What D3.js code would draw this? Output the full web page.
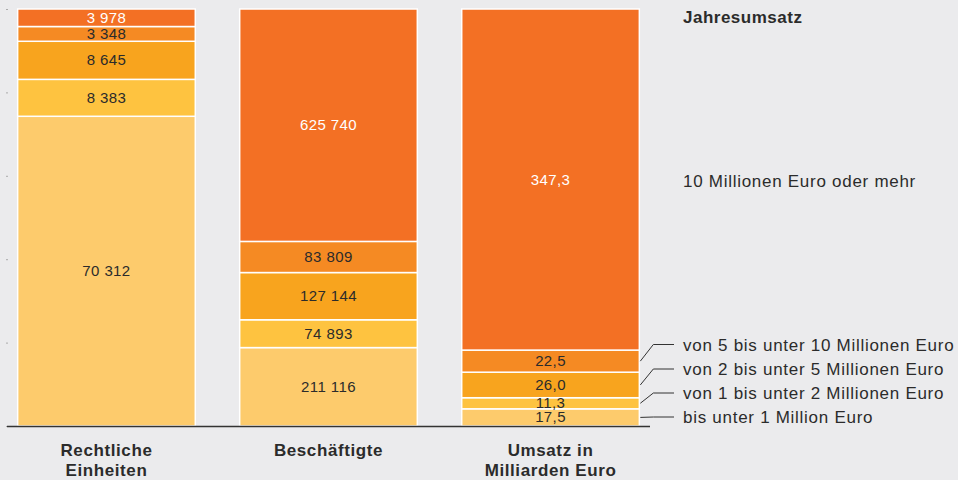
<!DOCTYPE html>
<html>
<head>
<meta charset="utf-8">
<script src="https://cdn.jsdelivr.net/npm/d3@7"></script>
<style>
  body { margin: 0; background: #ebebed; }
  svg text { font-family: Arial, "Liberation Sans", sans-serif; }
</style>
</head>
<body>
<svg width="958" height="480"></svg>
<script>
// categories (x axis) and size classes (stack order, bottom to top)
const categories = ['Rechtliche Einheiten', 'Beschäftigte', 'Umsatz in Milliarden Euro'];
const catLines = [['Rechtliche', 'Einheiten'], ['Beschäftigte'], ['Umsatz in', 'Milliarden Euro']];
const classes = ['bis unter 1 Million Euro', 'von 1 bis unter 2 Millionen Euro',
  'von 2 bis unter 5 Millionen Euro', 'von 5 bis unter 10 Millionen Euro',
  '10 Millionen Euro oder mehr'];

// values per category, bottom to top
const einheiten = [70312, 8383, 8645, 3348, 3978];
const beschaeftigte = [211116, 74893, 127144, 83809, 625740];
const umsatz = [17.5, 11.3, 26.0, 22.5, 347.3];

const labelsEinheiten = ['70 312', '8 383', '8 645', '3 348', '3 978'];
const labelsBeschaeftigte = ['211 116', '74 893', '127 144', '83 809', '625 740'];
const labelsUmsatz = ['17,5', '11,3', '26,0', '22,5', '347,3'];

const colors = ['#fdcb6c', '#fec340', '#f8a41e', '#f58a23', '#f37024'];

const series = [einheiten, beschaeftigte, umsatz];
const labels = [labelsEinheiten, labelsBeschaeftigte, labelsUmsatz];

const svg = d3.select('svg');

const x = d3.scaleBand().domain(categories).range([7, 650]).paddingInner(0.2).paddingOuter(0.048);
const y = d3.scaleLinear().domain([0, 1]).range([426, 9]);

// small ticks on the left
svg.append('g')
  .attr('transform', 'translate(8,0)')
  .call(d3.axisLeft(y).ticks(5).tickSize(2).tickFormat(''))
  .call(g => g.select('.domain').remove())
  .call(g => g.selectAll('line').attr('stroke', '#aaa'));

// build stacked shares
const rows = [];
series.forEach((vals, ci) => {
  const total = d3.sum(vals);
  let acc = 0;
  vals.forEach((v, k) => {
    rows.push({ cat: categories[ci], k: k, y0: acc / total, y1: (acc + v) / total, label: labels[ci][k] });
    acc += v;
  });
});

const bars = svg.append('g');
bars.selectAll('rect')
  .data(rows)
  .enter()
  .append('rect')
  .attr('x', d => x(d.cat))
  .attr('y', d => y(d.y1))
  .attr('width', x.bandwidth())
  .attr('height', d => y(d.y0) - y(d.y1))
  .attr('fill', d => colors[d.k])
  .attr('stroke', '#fff')
  .attr('stroke-width', 1.5);

bars.selectAll('text')
  .data(rows)
  .enter()
  .append('text')
  .attr('x', d => x(d.cat) + x.bandwidth() / 2)
  .attr('y', d => (y(d.y0) + y(d.y1)) / 2 + 5)
  .attr('text-anchor', 'middle')
  .style('font-size', '15px')
  .style('letter-spacing', '0.4px')
  .attr('fill', d => d.k === 4 ? '#fff' : '#2b2b2b')
  .text(d => d.label);

// baseline
svg.append('line')
  .attr('x1', 7).attr('x2', 650)
  .attr('y1', y(0) + 0.5).attr('y2', y(0) + 0.5)
  .attr('stroke', '#333').attr('stroke-width', 1.5);

// category labels
catLines.forEach((lines, i) => {
  const cx = x(categories[i]) + x.bandwidth() / 2;
  const t = svg.append('text')
    .attr('x', cx)
    .attr('y', 456)
    .attr('text-anchor', 'middle')
    .style('font-size', '17px')
    .style('font-weight', 'bold')
    .style('letter-spacing', '0.6px')
    .attr('fill', '#2b2b2b');
  lines.forEach((l, j) => {
    t.append('tspan').attr('x', cx).attr('dy', j === 0 ? 0 : 19.5).text(l);
  });
});

// legend
const lx = 683;
const lastCat = categories[2];
const uRows = rows.filter(d => d.cat === lastCat);
const barRight = x(lastCat) + x.bandwidth();
const legendY = [417, 393, 369, 344.5];

svg.append('text')
  .attr('x', lx).attr('y', 23)
  .style('font-size', '17px').style('font-weight', 'bold')
  .style('letter-spacing', '0.5px')
  .attr('fill', '#2b2b2b')
  .text('Jahresumsatz');

uRows.forEach(d => {
  const mid = (y(d.y0) + y(d.y1)) / 2;
  if (d.k === 4) {
    svg.append('text')
      .attr('x', lx).attr('y', mid + 7.5)
      .style('font-size', '17px').style('letter-spacing', '0.72px')
      .attr('fill', '#2b2b2b')
      .text(classes[d.k]);
    return;
  }
  const ly = legendY[d.k];
  svg.append('polyline')
    .attr('points', [[barRight + 1, mid], [barRight + 14, ly], [lx - 9, ly]].map(p => p.join(',')).join(' '))
    .attr('fill', 'none').attr('stroke', '#333').attr('stroke-width', 1);
  svg.append('text')
    .attr('x', lx).attr('y', ly + 6)
    .style('font-size', '17px').style('letter-spacing', '0.72px')
    .attr('fill', '#2b2b2b')
    .text(classes[d.k]);
});
</script>
</body>
</html>
